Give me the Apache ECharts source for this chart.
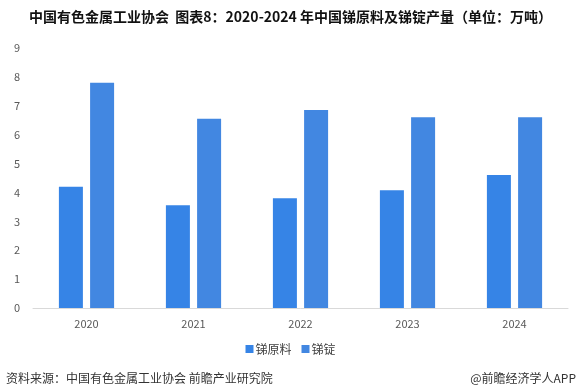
<!DOCTYPE html>
<html>
<head>
<meta charset="utf-8">
<script src="https://cdn.jsdelivr.net/npm/echarts@6/dist/echarts.min.js"></script>
<style>
  html, body { margin: 0; padding: 0; background: #fff; }
  #chart { width: 581px; height: 392px; }
</style>
</head>
<body>
<div id="chart"></div>
<script>
// 数据
const years = ['2020', '2021', '2022', '2023', '2024'];
const rawMaterial = [4.2, 3.56, 3.8, 4.08, 4.6];   // 锑原料
const ingot = [7.8, 6.55, 6.85, 6.6, 6.6];          // 锑锭
const yTicks = [0, 1, 2, 3, 4, 5, 6, 7, 8, 9];

let myChart = echarts.init(document.getElementById('chart'));

let font = '"Noto Sans CJK SC", "Noto Sans", sans-serif';

let option = {
    textStyle: { fontFamily: font },
    title: {
        text: '中国有色金属工业协会  图表8：2020-2024 年中国锑原料及锑锭产量（单位：万吨）',
        left: 'center',
        top: 5,
        textStyle: { fontSize: 14, fontWeight: 'bold', color: '#111', fontFamily: font }
    },
    legend: {
        bottom: 32,
        left: 'center',
        itemWidth: 8,
        itemHeight: 8,
        itemGap: 10,
        textStyle: { fontSize: 12, color: '#404040', padding: [0, 0, 0, -3] },
        data: [
            { name: '锑原料', icon: 'rect' },
            { name: '锑锭', icon: 'rect' }
        ]
    },
    grid: { left: 33, right: 13, top: 48, bottom: 84 },
    xAxis: {
        type: 'category',
        data: years,
        axisLine: { lineStyle: { color: '#d9d9d9' } },
        axisTick: { show: false },
        axisLabel: { color: '#595959', fontSize: 11, margin: 10 }
    },
    yAxis: {
        type: 'value',
        min: yTicks[0],
        max: yTicks[yTicks.length - 1],
        interval: 1,
        splitLine: { show: false },
        axisLine: { show: false },
        axisTick: { show: false },
        axisLabel: { color: '#595959', fontSize: 11, margin: 13 }
    },
    series: [
        {
            name: '锑原料',
            type: 'bar',
            data: rawMaterial,
            barWidth: 24,
            barGap: '30%',
            itemStyle: { color: '#3684e6' }
        },
        {
            name: '锑锭',
            type: 'bar',
            data: ingot,
            barWidth: 24,
            itemStyle: { color: '#4287e1' }
        }
    ],
    graphic: [
        {
            type: 'text',
            left: 6,
            top: 372,
            style: { text: '资料来源：中国有色金属工业协会 前瞻产业研究院', fontSize: 12, fill: '#333', fontFamily: font }
        },
        {
            type: 'text',
            right: 5,
            top: 372,
            style: { text: '@前瞻经济学人APP', fontSize: 12, fill: '#333', fontFamily: font }
        }
    ]
};

myChart.setOption(option);

window.addEventListener('resize', function () {
    myChart.resize();
}, false);
</script>
</body>
</html>
